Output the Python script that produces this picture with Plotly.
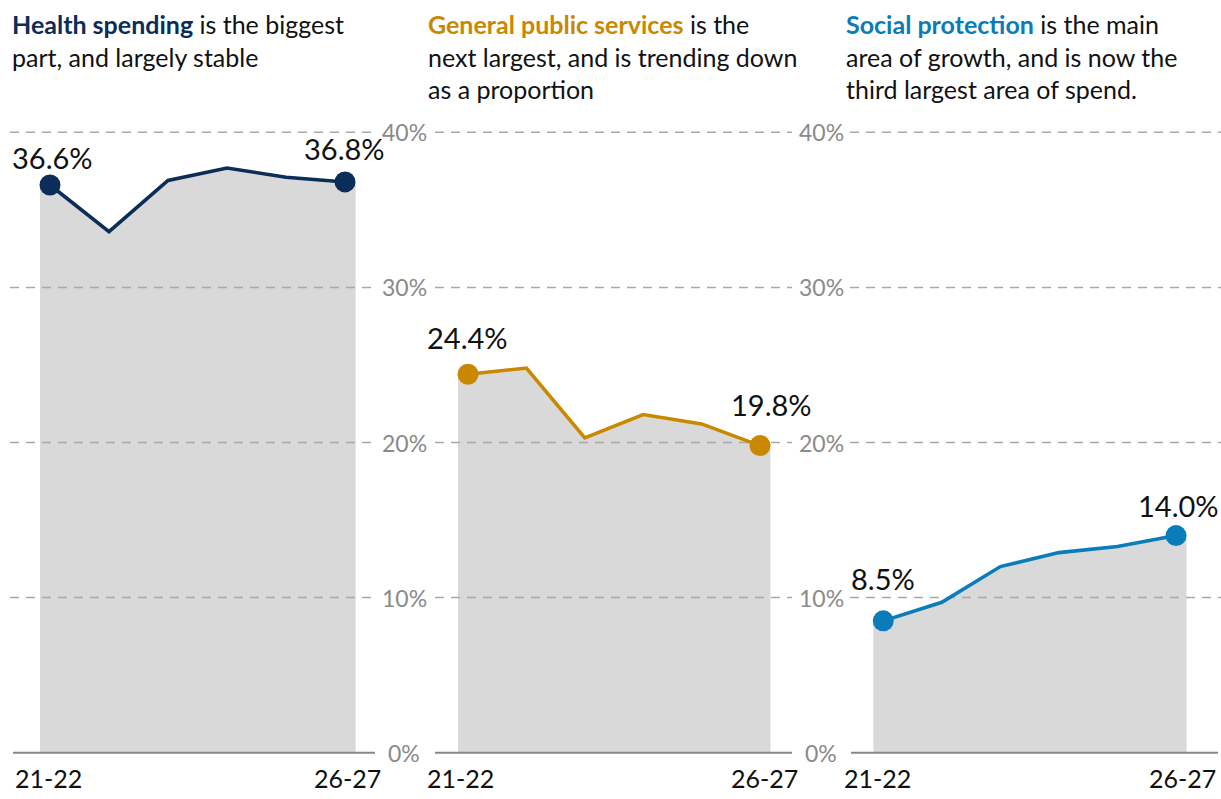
import plotly.graph_objects as go

# ---- data -------------------------------------------------------------
periods = ["21-22", "22-23", "23-24", "24-25", "25-26", "26-27"]
health = [36.6, 33.6, 36.9, 37.7, 37.1, 36.8]
public_services = [24.4, 24.8, 20.3, 21.8, 21.2, 19.8]
social_protection = [8.5, 9.7, 12.0, 12.9, 13.3, 14.0]
y_ticks = [0, 10, 20, 30, 40]

titles = [
    ("Health spending", " is the biggest<br>part, and largely stable"),
    ("General public services", " is the<br>next largest, and is trending down<br>as a proportion"),
    ("Social protection", " is the main<br>area of growth, and is now the<br>third largest area of spend."),
]
colors = ["#0b2d57", "#c98800", "#0a7cb9"]
series = [health, public_services, social_protection]

# ---- layout helpers (pixel -> paper) -----------------------------------
W, H = 1221, 799
FONT = "Lato"


def px(x):
    return x / W


def py(y):
    return 1 - y / H


PX_PER_PCT = 15.51
Y_ZERO_PX = 752.7
Y_RANGE = [-0.3, 41]
y_dom = [py(Y_ZERO_PX - Y_RANGE[0] * PX_PER_PCT), py(Y_ZERO_PX - Y_RANGE[1] * PX_PER_PCT)]

# panel geometry: plot-area extents (px) and x-range in period-index units
panels = [
    dict(dom=(10, 377), rng=(-0.678, 5.542), base=(13, 375), title_x=10,
         lab_l=13, lab_r=383),
    dict(dom=(435, 792), rng=(-0.565, 5.548), base=(435, 792), title_x=426,
         lab_l=425, lab_r=800),
    dict(dom=(850, 1221), rng=(-0.568, 5.768), base=(851, 1218), title_x=844,
         lab_l=842, lab_r=1218),
]
# vertical offsets (px) of the end-point value labels: (first, last)
label_shift = [(28, 33), (37, 41), (42, 30)]
label_xshift = [(2, -1), (-1, 11), (0, 2)]

fig = go.Figure()
n = len(periods)
idx = list(range(n))

for i, (vals, col, p) in enumerate(zip(series, colors, panels)):
    xa = "x" if i == 0 else f"x{i + 1}"

    # grey area under the line, extended slightly past the end points
    fig.add_trace(go.Scatter(
        x=[-0.17] + idx + [n - 1 + 0.18], y=[vals[0]] + vals + [vals[-1]],
        xaxis=xa, yaxis="y", mode="lines", line=dict(width=0),
        fill="tozeroy", fillcolor="#d9d9d9", hoverinfo="skip", showlegend=False))

    # dashed gridlines across the panel, on top of the area
    gx, gy = [], []
    for t in y_ticks[1:]:
        gx += [p["rng"][0], p["rng"][1], None]
        gy += [t, t, None]
    fig.add_trace(go.Scatter(
        x=gx, y=gy, xaxis=xa, yaxis="y", mode="lines",
        line=dict(color="#a8a8a8", width=1.5, dash="9px,7px"),
        hoverinfo="skip", showlegend=False))

    # the series line
    fig.add_trace(go.Scatter(
        x=idx, y=vals, xaxis=xa, yaxis="y", mode="lines",
        line=dict(color=col, width=3.6), showlegend=False))

    # end-point markers
    fig.add_trace(go.Scatter(
        x=[idx[0], idx[-1]], y=[vals[0], vals[-1]], xaxis=xa, yaxis="y",
        mode="markers", marker=dict(color=col, size=21), cliponaxis=False,
        showlegend=False))

    # end-point value labels
    for j, k in enumerate([0, n - 1]):
        fig.add_annotation(
            x=idx[k], y=vals[k], xref=xa, yref="y", text=f"{vals[k]:.1f}%",
            showarrow=False, yanchor="middle", xanchor="center",
            yshift=label_shift[i][j], xshift=label_xshift[i][j],
            font=dict(family=FONT, size=29, color="#111111"))

    # solid baseline at 0%
    fig.add_shape(type="line", xref="paper", yref="y",
                  x0=px(p["base"][0]), x1=px(p["base"][1]), y0=0, y1=0,
                  line=dict(color="#888888", width=2))

    # first / last period labels
    fig.add_annotation(x=px(p["lab_l"]), y=py(778), xref="paper", yref="paper",
                       text=periods[0], showarrow=False, xanchor="left", yanchor="middle",
                       font=dict(family=FONT, size=25, color="#111111"))
    fig.add_annotation(x=px(p["lab_r"]), y=py(778), xref="paper", yref="paper",
                       text=periods[-1], showarrow=False, xanchor="right", yanchor="middle",
                       font=dict(family=FONT, size=25, color="#111111"))

    # panel heading
    bold, rest = titles[i]
    fig.add_annotation(
        x=px(p["title_x"]), y=py(7), xref="paper", yref="paper",
        text=f"<b><span style='color:{col}'>{bold}</span></b>{rest}",
        showarrow=False, xanchor="left", yanchor="top", align="left",
        font=dict(family=FONT, size=25, color="#111111"))

    axis = dict(domain=[px(p["dom"][0]), px(p["dom"][1])], range=list(p["rng"]),
                anchor="y", showgrid=False, zeroline=False, showticklabels=False,
                showline=False, ticks="", fixedrange=True)
    fig.update_layout(**{("xaxis" if i == 0 else f"xaxis{i + 1}"): axis})

# percentage tick labels between the panels
for cx in (404, 821):
    for t in y_ticks:
        fig.add_annotation(x=px(cx), y=t, xref="paper", yref="y", text=f"{t}%",
                           showarrow=False, xanchor="center", yanchor="middle",
                           font=dict(family=FONT, size=23, color="#8a8a8a"))

fig.update_layout(
    width=W, height=H,
    margin=dict(l=0, r=0, t=0, b=0),
    paper_bgcolor="white", plot_bgcolor="rgba(0,0,0,0)",
    yaxis=dict(domain=y_dom, range=Y_RANGE, showgrid=False, zeroline=False,
               showticklabels=False, showline=False, ticks="", fixedrange=True),
    showlegend=False,
)

fig.write_html("out.html", config={"displayModeBar": False})
